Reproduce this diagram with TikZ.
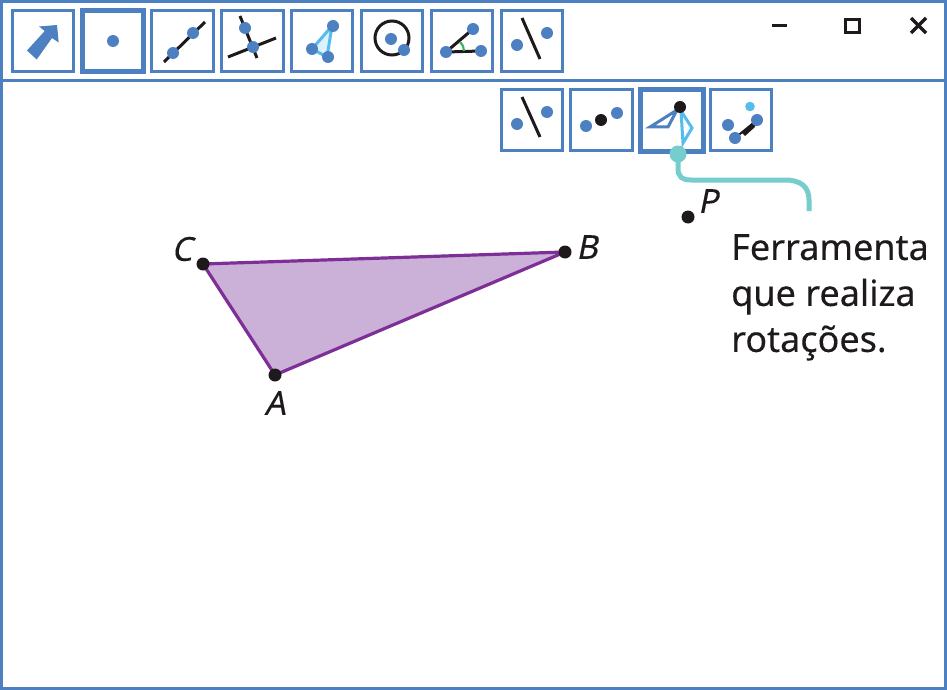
\documentclass[tikz,border=0pt]{standalone}
\usepackage{fontspec}
\setmainfont{Noto Sans}
\newfontfamily\calloutfont[FakeBold=0.25]{Noto Sans}
\newfontfamily\labelfont[FakeBold=0.2,FakeSlant=0.2]{Noto Sans}
\definecolor{uiblue}{HTML}{4C80C1}
\definecolor{ink}{HTML}{1E1A1B}
\definecolor{sky}{HTML}{55BDEE}
\definecolor{paleSky}{HTML}{DCF1FB}
\definecolor{tealc}{HTML}{76CDCD}
\definecolor{tripurple}{HTML}{7E2F97}
\definecolor{trifill}{HTML}{CBB0D8}
\definecolor{anglegreen}{HTML}{3FB060}
\tikzset{
  x=1pt,y=-1pt,
  toolbox/.style={draw=uiblue,line width=3pt,fill=white},
  toolboxsel/.style={draw=uiblue,line width=5pt,fill=white},
  blackline/.style={draw=ink,line width=3pt},
  ptlabel/.style={text=ink,font=\labelfont\fontsize{33}{33}\selectfont,inner sep=0pt},
}
\newcommand{\bdot}[3][uiblue]{\fill[#1] (#2,#3) circle (6pt);}
\begin{document}
\begin{tikzpicture}
\useasboundingbox (0,0) rectangle (947,690);
\fill[white] (0,0) rectangle (947,690);
\draw[uiblue,line width=3pt] (1.5,1.5) rectangle (945.5,688.5);
\draw[uiblue,line width=3pt] (0,80.5) -- (947,80.5);
% top toolbar
\draw[toolbox] (12.5,10.5) rectangle (73.5,71.5);
\draw[toolboxsel] (82.5,10.5) rectangle (143.5,71.5);
\draw[toolbox] (151.5,10.5) rectangle (213.5,71.5);
\draw[toolbox] (221.5,10.5) rectangle (283.5,71.5);
\draw[toolbox] (291.5,10.5) rectangle (352.5,71.5);
\draw[toolbox] (361.5,10.5) rectangle (422.5,71.5);
\draw[toolbox] (431.5,10.5) rectangle (492.5,71.5);
\draw[toolbox] (501.5,10.5) rectangle (562.5,71.5);
% icon 1: arrow
\fill[uiblue] (27,50.5) -- (44.7,31) -- (39,26.5) -- (57,25) -- (58.7,42.5) -- (52,38) -- (36.7,59.5) -- cycle;
% icon 2
\bdot{113}{41}
% icon 3
\draw[blackline] (164,62) -- (205,22);
\bdot{173}{53}\bdot{193}{33}
% icon 4
\draw[blackline] (240,16) -- (257,58);
\draw[blackline] (228,57) -- (276,38);
\bdot{245}{28}\bdot{253}{47}
% icon 5
\draw[sky,line width=3pt,fill=paleSky] (332,26) -- (312,49) -- (327,57) -- cycle;
\bdot{333}{26}\bdot{312}{49}\bdot{328}{57}
% icon 6
\draw[ink,line width=3pt] (392,38) circle (17pt);
\bdot{391}{39}\bdot{404}{50}
% icon 7
\draw[blackline] (446,52) -- (473,29);
\draw[blackline] (446,52) -- (481,51);
\draw[anglegreen,line width=2.2pt] (460,42) .. controls (463,45) and (464,48) .. (464,51);
\bdot{446}{52}\bdot{473}{29}\bdot{481}{51}
% icon 8
\draw[blackline] (522,18) -- (540,59);
\bdot{517}{45}\bdot{547}{33}
% second row
\draw[toolbox] (501.5,89.5) rectangle (562.5,150.5);
\draw[toolbox] (570.5,89.5) rectangle (632.5,150.5);
\draw[toolboxsel] (640.5,89.5) rectangle (703,151);
\draw[toolbox] (710.5,89.5) rectangle (771.5,150.5);
% r2 icon 1
\draw[blackline] (522,97) -- (540,137);
\bdot{517}{124}\bdot{547}{112}
% r2 icon 2
\bdot{586}{126}\bdot{617}{113}
\bdot[ink]{601}{120}
% r2 icon 3
\draw[uiblue,line width=3pt,line join=miter] (677,110) -- (650,127) -- (668,127) -- cycle;
\draw[sky,line width=3pt,line join=miter] (681,111) -- (692,128) -- (683,143) -- cycle;
\bdot[ink]{680}{107}
% r2 icon 4
\fill[sky] (750,106.5) circle (4.8pt);
\draw[ink,line width=2pt] (735,138) -- (757,120);
\fill[ink] (742,133) -- (752,123) -- (757,120) -- (755,127) -- (745,136) -- cycle;
\bdot{728}{125}\bdot{735}{138}\bdot{757}{120}
% window controls
\draw[ink,line width=3pt] (772,26) -- (787,26);
\draw[ink,line width=3.5pt] (845.7,19.7) rectangle (859.3,32.3);
\draw[ink,line width=3.5pt] (911,18) -- (926,33);
\draw[ink,line width=3.5pt] (926,18) -- (911,33);
% triangle
\coordinate (A) at (275,375);
\coordinate (B) at (565,252);
\coordinate (C) at (203,264);
\coordinate (P) at (688,217);
\filldraw[fill=trifill,draw=tripurple,line width=3.2pt,line join=round] (A) -- (B) -- (C) -- cycle;
\fill[ink] (A) circle (6.5pt) (B) circle (6.5pt) (C) circle (6.5pt) (P) circle (6.5pt);
\node[ptlabel] (lA) at (275,403) {A};
\node[ptlabel] (lB) at (587,247) {B};
\node[ptlabel] (lC) at (182,249) {C};
\node[ptlabel] (lP) at (708,201) {P};
% callout
\coordinate (tipT) at (678,154);
\coordinate (tipE) at (809,211);
\draw[tealc,line width=5pt] (tipT) -- (678,168) .. controls (678,177) and (682,180) .. (691,180) -- (785,180) .. controls (801,180) and (809,187) .. (809,200) -- (tipE);
\fill[tealc] (tipT) circle (8.5pt);
\node[text=ink,font=\calloutfont\fontsize{36}{46}\selectfont,align=left,anchor=north west,inner sep=0pt] (txt) at (731,234) {Ferramenta\\que realiza\\rotações.};
\end{tikzpicture}
\end{document}
